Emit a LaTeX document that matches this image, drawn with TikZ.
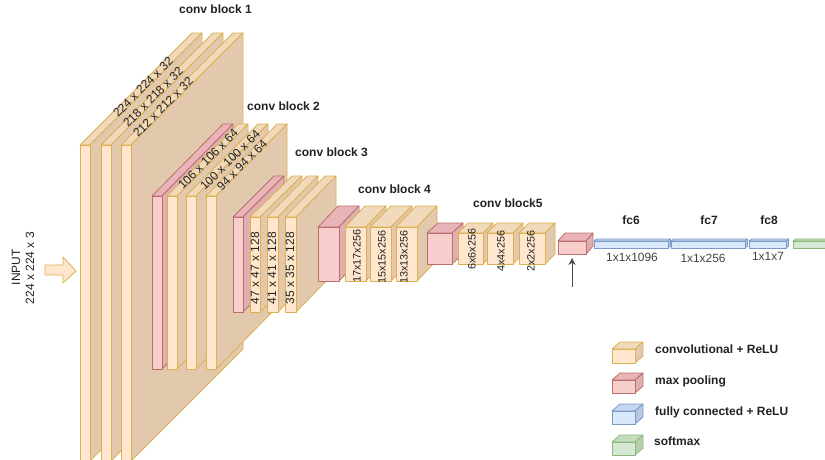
\documentclass[tikz,border=0pt]{standalone}
\usetikzlibrary{arrows.meta}
\usepackage{fontspec}
\setmainfont{Liberation Sans}
\definecolor{cvF}{HTML}{FFE6CC}\definecolor{cvT}{HTML}{F1DABC}\definecolor{cvS}{HTML}{E2C9AE}\definecolor{cvL}{HTML}{DDB052}
\definecolor{mpF}{HTML}{F8CECC}\definecolor{mpT}{HTML}{E9B4B8}\definecolor{mpS}{HTML}{E0B0B0}\definecolor{mpL}{HTML}{B9706C}
\definecolor{fcF}{HTML}{DAE8FC}\definecolor{fcT}{HTML}{C5D6EE}\definecolor{fcS}{HTML}{B5C8E2}\definecolor{fcL}{HTML}{7A9AC8}
\definecolor{smF}{HTML}{D5E8D4}\definecolor{smT}{HTML}{C3DCC0}\definecolor{smS}{HTML}{B4D0AE}\definecolor{smL}{HTML}{8DB878}
\definecolor{inkc}{HTML}{222222}
% x, y (front top-left), w, h, dx, dy, colour prefix
\newcommand{\cubeb}[7]{%
  \draw[#7L,line width=0.8pt,line join=round,fill=#7T] (#1,#2) -- ++(#5,-#6) -- ++(#3,0) -- ++(-#5,#6) -- cycle;
  \draw[#7L,line width=0.8pt,line join=round,fill=#7S] (#1+#3,#2) -- ++(#5,-#6) -- ++(0,#4) -- ++(-#5,#6) -- cycle;
  \draw[#7L,line width=0.8pt,line join=round,fill=#7F] (#1,#2) rectangle ++(#3,#4);
}
\tikzset{
  blocklabel/.style={font=\bfseries\fontsize{12}{14}\selectfont,text=inkc,inner sep=0pt},
  dimbig/.style={font=\fontsize{12}{14}\selectfont,text=inkc,inner sep=0pt},
  dimsmall/.style={font=\fontsize{10.8}{13}\selectfont,text=inkc,inner sep=0pt},
  dimflat/.style={font=\fontsize{11.9}{14}\selectfont,text=inkc!85,inner sep=0pt},
  legendlabel/.style={blocklabel,anchor=west},
}
\begin{document}
\begin{tikzpicture}[x=1pt,y=-1pt]
\useasboundingbox (0,0) rectangle (825,459);
\clip (0,0) rectangle (825,459);
\fill[white] (0,0) rectangle (825,459);
% block 1
\cubeb{80}{145}{10}{316}{112}{112}{cv}
\cubeb{101}{145}{10}{316}{112}{112}{cv}
\cubeb{121}{145}{10}{316}{112}{112}{cv}
% block 2
\cubeb{152}{196}{10}{173}{71}{72}{mp}
\cubeb{167}{196}{10}{173}{71}{72}{cv}
\cubeb{186}{196}{10}{173}{72}{72}{cv}
\cubeb{206}{196}{10}{173}{71}{72}{cv}
% block 3
\cubeb{233}{217}{10}{95}{41}{41}{mp}
\cubeb{250}{217}{10}{95}{42}{41}{cv}
\cubeb{267}{217}{11}{95}{40}{41}{cv}
\cubeb{285}{217}{11}{95}{40}{41}{cv}
% block 4
\cubeb{318}{227}{21}{54}{20}{21}{mp}
\cubeb{345}{227}{21}{54}{20}{21}{cv}
\cubeb{370}{227}{21}{54}{21}{21}{cv}
\cubeb{396}{227}{21}{54}{20}{21}{cv}
% block 5
\cubeb{427}{233}{25}{31}{11}{10}{mp}
\cubeb{458}{233}{25}{31}{10}{10}{cv}
\cubeb{487}{233}{26}{31}{10}{10}{cv}
\cubeb{519}{233}{26}{31}{10}{10}{cv}
% last pool and fully connected
\cubeb{558}{241}{28}{13}{7}{8}{mp}
\cubeb{594}{241}{74}{7}{2.5}{2}{fc}
\cubeb{671}{241}{74}{7}{2.5}{2}{fc}
\cubeb{749}{241}{37}{7}{2.5}{2}{fc}
\cubeb{793}{241}{60}{7}{2.5}{2}{sm}
% input arrow
\draw[cvL,line width=0.8pt,line join=round,fill=cvF] (45,265) -- (63,265) -- (63,257) -- (76,271) -- (63,283) -- (63,275) -- (45,275) -- cycle;
% block titles
\node[blocklabel] (t1) at (215.5,9.5) {conv block 1};
\node[blocklabel,anchor=west] (t2) at (247,106.5) {conv block 2};
\node[blocklabel,anchor=west] (t3) at (295,152.5) {conv block 3};
\node[blocklabel,anchor=west] (t4) at (358,189) {conv block 4};
\node[blocklabel,anchor=west] (t5) at (473,203) {conv block5};
\node[blocklabel] (f6) at (631,220) {fc6};
\node[blocklabel] (f7) at (709,220) {fc7};
\node[blocklabel] (f8) at (769,220) {fc8};
% dims
\node[dimbig,rotate=45] (d1a) at (143,87) {224 x 224 x 32};
\node[dimbig,rotate=45] (d1b) at (153,97) {218 x 218 x 32};
\node[dimbig,rotate=45] (d1c) at (163,107) {212 x 212 x 32};
\node[dimbig,rotate=45] (d2a) at (208,159) {106 x 106 x 64};
\node[dimbig,rotate=45] (d2b) at (230,160) {100 x 100 x 64};
\node[dimbig,rotate=45] (d2c) at (242,165) {94 x 94 x 64};
\node[dimbig,rotate=90] (d3a) at (255,268) {47 x 47 x 128};
\node[dimbig,rotate=90] (d3b) at (272,268) {41 x 41 x 128};
\node[dimbig,rotate=90] (d3c) at (290,268) {35 x 35 x 128};
\node[dimsmall,rotate=90] (d4a) at (357,256) {17x17x256};
\node[dimsmall,rotate=90] (d4b) at (382,257) {15x15x256};
\node[dimsmall,rotate=90] (d4c) at (404,257) {13x13x256};
\node[dimsmall,rotate=90] (d5a) at (472,249) {6x6x256};
\node[dimsmall,rotate=90] (d5b) at (501,251) {4x4x256};
\node[dimsmall,rotate=90] (d5c) at (531,251) {2x2x256};
\node[dimflat] (n6) at (632,257) {1x1x1096};
\node[dimflat] (n7) at (703,258) {1x1x256};
\node[dimflat] (n8) at (768,256) {1x1x7};
\node[dimbig,rotate=90] (inA) at (16,267) {INPUT};
\node[dimbig,rotate=90] (inB) at (30,268) {224 x 224 x 3};
% pointer arrow
\coordinate (pa) at (572,287);
\coordinate (pb) at (572,258);
\draw[-{Stealth[length=7pt,width=7pt]},color=inkc!80,line width=1pt] (pa) -- (pb);
% legend
\cubeb{612}{349}{23}{14}{8}{7}{cv}
\cubeb{612}{380}{23}{13}{8}{7}{mp}
\cubeb{612}{411}{23}{13}{8}{7}{fc}
\cubeb{612}{442}{23}{13}{8}{7}{sm}
\node[legendlabel] (l1) at (655,349.5) {convolutional + ReLU};
\node[legendlabel] (l2) at (655,381) {max pooling};
\node[legendlabel] (l3) at (655,412) {fully connected + ReLU};
\node[legendlabel] (l4) at (654,441) {softmax};
\end{tikzpicture}
\end{document}
